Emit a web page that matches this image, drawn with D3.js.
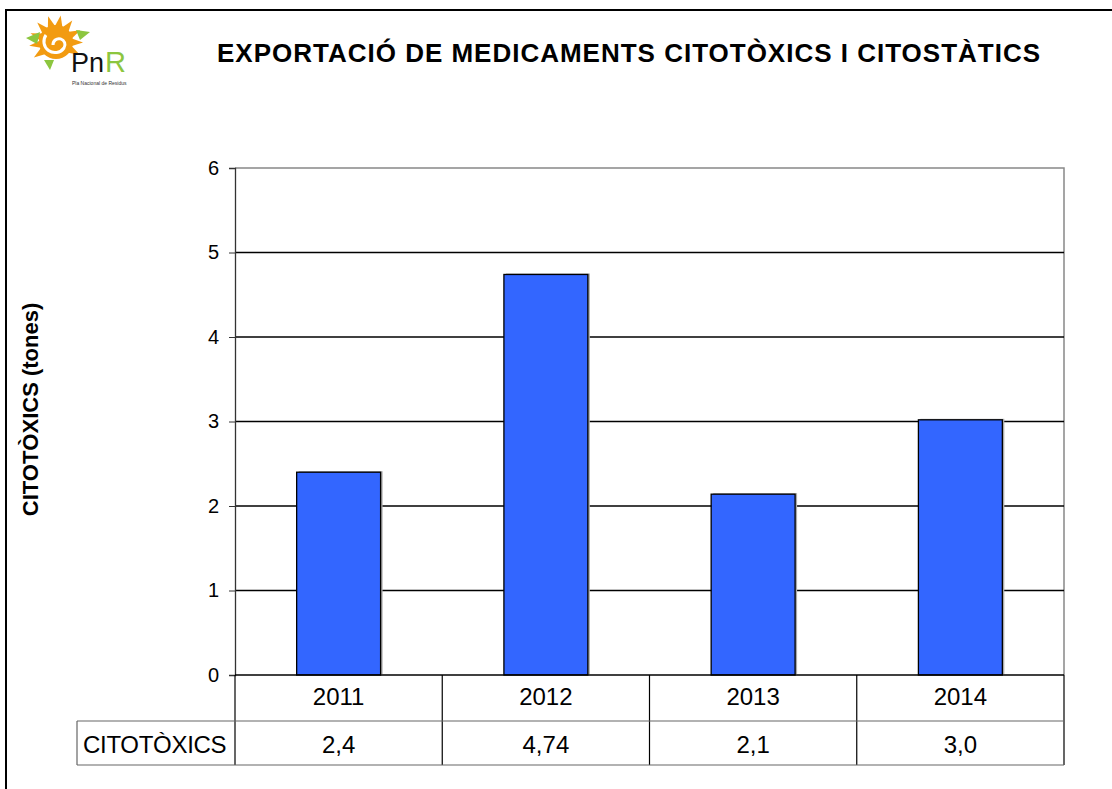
<!DOCTYPE html>
<html>
<head>
<meta charset="utf-8">
<script src="https://cdn.jsdelivr.net/npm/d3@7"></script>
<style>
  body { margin: 0; background: #fff; }
  svg text { font-family: "Liberation Sans", Arial, sans-serif; }
</style>
</head>
<body>
<div id="chart"></div>
<script>
var years = ['2011', '2012', '2013', '2014'];
var tones = [2.4, 4.74, 2.14, 3.02];
var tableLabels = ['2,4', '4,74', '2,1', '3,0'];
var yTicks = [0, 1, 2, 3, 4, 5, 6];
var seriesName = 'CITOTÒXICS';

var width = 1112,
    height = 789,
    plotL = 235, plotR = 1064, plotT = 168, plotB = 675,
    row1 = 46, row2 = 44, labelL = 77;

var svg = d3.select('#chart').append('svg')
    .attr('width', width)
    .attr('height', height);

// outer frame (runs off the right and bottom)
svg.append('rect')
    .attr('x', 6).attr('y', 10)
    .attr('width', width + 10).attr('height', height + 10)
    .attr('fill', '#fff')
    .attr('stroke', '#000')
    .attr('stroke-width', 2);

// logo
var logo = svg.append('g').attr('transform', 'translate(56,42)');
var rays = d3.range(10).map(function(i) { return -215 + i * 27; });
logo.selectAll('.ray')
    .data(rays)
  .enter().append('path')
    .attr('d', function(a) {
      var r = a * Math.PI / 180;
      var p = function(rad, ang) { return [rad * Math.cos(ang), rad * Math.sin(ang)]; };
      return 'M' + p(15, r - 0.28) + 'L' + p(27, r) + 'L' + p(15, r + 0.28) + 'Z';
    })
    .attr('fill', '#f29b11');
logo.append('circle').attr('r', 17).attr('fill', '#f29b11');
logo.append('path')
    .attr('d', 'M-3,3 a6,6 0 1,1 11,3 a11,11 0 1,1 -18,-13')
    .attr('fill', 'none').attr('stroke', '#fff').attr('stroke-width', 3);
logo.append('path').attr('d', 'M-30,-4 L-16,-10 L-19,2 Z').attr('fill', '#8cc63f');
logo.append('path').attr('d', 'M20,-12 L34,-10 L24,-2 Z').attr('fill', '#8cc63f');
logo.append('path').attr('d', 'M-12,18 L-6,28 L-2,18 Z').attr('fill', '#8cc63f');
logo.append('text').attr('x', 15).attr('y', 30)
    .attr('font-size', 27).attr('fill', '#111').text('Pn');
logo.append('text').attr('x', 49).attr('y', 30)
    .attr('font-size', 29).attr('fill', '#8cc63f').text('R');
logo.append('text').attr('x', 16).attr('y', 43)
    .attr('font-size', 5).attr('fill', '#333').text('Pla Nacional de Residus');

// title
svg.append('text')
    .attr('x', 217).attr('y', 62)
    .attr('font-size', 26).attr('font-weight', 'bold')
    .attr('textLength', 823).attr('lengthAdjust', 'spacing')
    .text('EXPORTACIÓ DE MEDICAMENTS CITOTÒXICS I CITOSTÀTICS');

var x = d3.scaleBand().domain(years).range([plotL, plotR]).paddingInner(0).paddingOuter(0);
var y = d3.scaleLinear().domain([0, 6]).range([plotB, plotT]);

// plot border (gray top/right)
svg.append('path')
    .attr('d', 'M' + plotL + ',' + plotT + 'H' + plotR + 'V' + plotB)
    .attr('fill', 'none').attr('stroke', '#888').attr('stroke-width', 1.5);

// gridlines
svg.selectAll('.grid')
    .data(yTicks.filter(function(d) { return d > 0 && d < 6; }))
  .enter().append('line')
    .attr('x1', plotL).attr('x2', plotR)
    .attr('y1', function(d) { return y(d); })
    .attr('y2', function(d) { return y(d); })
    .attr('stroke', '#000').attr('stroke-width', 1.3);

// bars with a soft shadow
var barW = x.bandwidth() * 0.405;
svg.selectAll('.shadow')
    .data(tones)
  .enter().append('rect')
    .attr('x', function(d, i) { return x(years[i]) + (x.bandwidth() - barW) / 2 + 2; })
    .attr('y', function(d) { return y(d) - 1; })
    .attr('width', barW)
    .attr('height', function(d) { return plotB - y(d); })
    .attr('fill', '#aaa');
svg.selectAll('.bar')
    .data(tones)
  .enter().append('rect')
    .attr('class', 'bar')
    .attr('x', function(d, i) { return x(years[i]) + (x.bandwidth() - barW) / 2; })
    .attr('y', function(d) { return y(d); })
    .attr('width', barW)
    .attr('height', function(d) { return plotB - y(d); })
    .attr('fill', '#3366ff')
    .attr('stroke', '#000').attr('stroke-width', 1.3);

// y axis
var yAxis = svg.append('g')
    .attr('transform', 'translate(' + plotL + ',0)')
    .call(d3.axisLeft(y).tickValues(yTicks).tickSize(6).tickPadding(10).tickFormat(d3.format('d')));
yAxis.select('.domain').attr('stroke', '#333').attr('stroke-width', 1.3);
yAxis.selectAll('.tick line').attr('stroke', '#333');
yAxis.selectAll('.tick text')
    .attr('font-size', 20)
    .attr('font-family', '"Liberation Sans", Arial, sans-serif')
    .attr('fill', '#000');

svg.append('line')
    .attr('x1', plotL).attr('x2', plotR)
    .attr('y1', plotB).attr('y2', plotB)
    .attr('stroke', '#000').attr('stroke-width', 1.5);

// y label
svg.append('text')
    .attr('transform', 'translate(38,' + ((plotT + plotB) / 2 - 12) + ') rotate(-90)')
    .attr('text-anchor', 'middle')
    .attr('font-size', 22).attr('font-weight', 'bold')
    .text('CITOTÒXICS (tones)');

// data table
var table = svg.append('g').attr('stroke', '#000').attr('stroke-width', 1.2);
table.selectAll('.vline')
    .data(years.map(function(d) { return x(d); }).concat([plotR]))
  .enter().append('line')
    .attr('x1', function(d) { return d; }).attr('x2', function(d) { return d; })
    .attr('y1', plotB).attr('y2', plotB + row1 + row2);
table.append('line')
    .attr('x1', labelL).attr('x2', plotR)
    .attr('y1', plotB + row1).attr('y2', plotB + row1)
    .attr('stroke', '#666');
table.append('line')
    .attr('x1', labelL).attr('x2', plotR)
    .attr('y1', plotB + row1 + row2).attr('y2', plotB + row1 + row2)
    .attr('stroke', '#666');
table.append('line')
    .attr('x1', labelL).attr('x2', labelL)
    .attr('y1', plotB + row1).attr('y2', plotB + row1 + row2)
    .attr('stroke', '#666');

svg.selectAll('.year')
    .data(years)
  .enter().append('text')
    .attr('x', function(d) { return x(d) + x.bandwidth() / 2; })
    .attr('y', plotB + 30)
    .attr('text-anchor', 'middle')
    .attr('font-size', 24)
    .text(function(d) { return d; });

svg.selectAll('.val')
    .data(tableLabels)
  .enter().append('text')
    .attr('x', function(d, i) { return x(years[i]) + x.bandwidth() / 2; })
    .attr('y', plotB + row1 + 32)
    .attr('text-anchor', 'middle')
    .attr('font-size', 24)
    .text(function(d) { return d; });

svg.append('text')
    .attr('x', labelL + 6)
    .attr('y', plotB + row1 + 32)
    .attr('font-size', 24)
    .attr('letter-spacing', -0.3)
    .text(seriesName);
</script>
</body>
</html>
